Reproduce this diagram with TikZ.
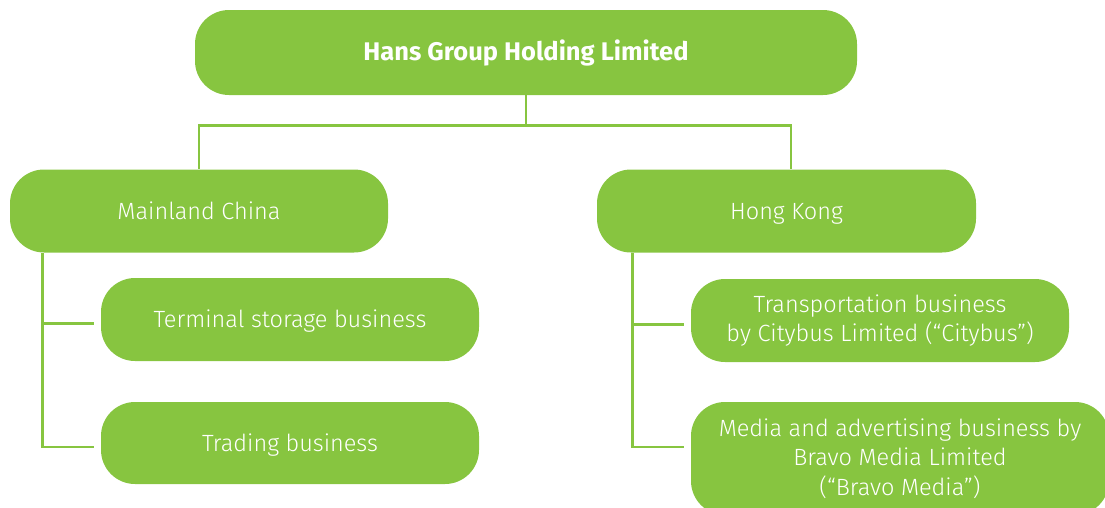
\documentclass[tikz,border=0pt]{standalone}
\usepackage{fontspec}
\setmainfont{Fira Sans}[UprightFont=* Light, BoldFont=* Bold]
\definecolor{hgreen}{HTML}{87C540}
\tikzset{
  box/.style={fill=hgreen, rounded corners=34pt, text=white, align=center,
    inner sep=0pt, font=\fontsize{23.5}{29.5}\selectfont},
  oneline/.style={box, text height=18pt, text depth=2pt},
  link/.style={draw=hgreen, line width=2.8pt},
}
\begin{document}
\begin{tikzpicture}[x=1pt, y=-1pt]
\useasboundingbox (0,0) rectangle (1105,507);
\clip (0,0) rectangle (1105,507);
% group level
\node[oneline, minimum width=662pt, minimum height=85pt, font=\fontsize{25.5}{30}\selectfont\bfseries]
  (top) at (526,52.5) {Hans Group Holding Limited};
% regions
\node[oneline, minimum width=378pt, minimum height=83pt] (mc) at (199,211) {Mainland China};
\node[oneline, minimum width=379pt, minimum height=83pt] (hk) at (786.5,211) {Hong Kong};
% businesses
\node[oneline, minimum width=378pt, minimum height=83pt] (ts) at (290,319.5) {Terminal storage business};
\node[oneline, minimum width=378pt, minimum height=82pt] (tr) at (290,443) {Trading business};
\node[box, minimum width=378pt, minimum height=83pt] (cb) at (880,320.5)
  {Transportation business\\by Citybus Limited (“Citybus”)};
\node[box, minimum width=418pt, minimum height=113pt] (md) at (900,458.5)
  {Media and advertising business by\\Bravo Media Limited\\(“Bravo Media”)};
% connectors
\draw[link] (top.south) -- ++(0,30) coordinate (j);
\draw[link] (j) -| (mc.north);
\draw[link] (j) -| ([xshift=4.5pt]hk.north);
\draw[link] ([xshift=33pt]mc.south west) |- ([xshift=-7pt,yshift=-4pt]tr.west);
\draw[link] ([xshift=33pt,yshift=-4pt]mc.south west |- ts.west) -- ([xshift=-7pt,yshift=-4pt]ts.west);
\draw[link] ([xshift=36pt]hk.south west) |- ([xshift=-7pt,yshift=-4pt]md.west |- tr.west);
\draw[link] ([xshift=36pt,yshift=-4pt]hk.south west |- cb.west) -- ([xshift=-7pt,yshift=-4pt]cb.west);
\end{tikzpicture}
\end{document}
